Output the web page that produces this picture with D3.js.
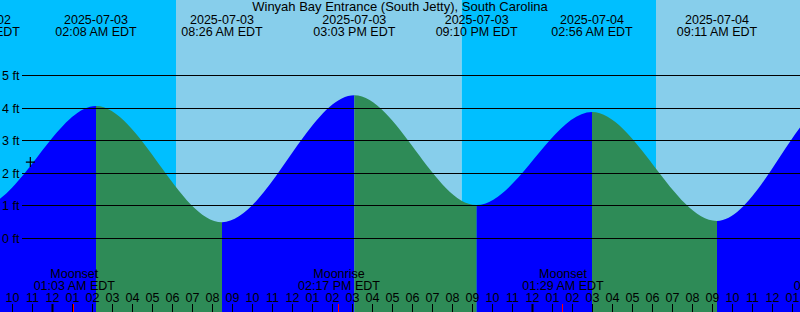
<!DOCTYPE html>
<html>
<head>
<meta charset="utf-8">
<script src="https://cdn.jsdelivr.net/npm/d3@7"></script>
<style>
  body { margin: 0; }
  svg { display: block; }
  text { font-family: "Liberation Sans", Arial, sans-serif; font-size: 12.5px; fill: #000; }
</style>
</head>
<body>
<svg class="main" width="800" height="312"></svg>
<script>
// tide extremes (high / low), first and last ones lie outside the view
const tideTimes = ["2025-07-02 14:05", "2025-07-02 20:17", "2025-07-03 02:08", "2025-07-03 08:26",
                   "2025-07-03 15:03", "2025-07-03 21:10", "2025-07-04 02:56", "2025-07-04 09:11",
                   "2025-07-04 15:25", "2025-07-04 21:55"];
const tideHeights = [4.3, 0.93, 4.05, 0.47, 4.38, 1.0, 3.86, 0.51, 4.4, 1.05];

// sunrise / sunset
const sunTimes = ["2025-07-03 06:08", "2025-07-03 20:25", "2025-07-04 06:08"];

// moon events
const moonTimes = ["2025-07-03 01:03", "2025-07-03 14:17", "2025-07-04 01:29", "2025-07-04 15:04"];
const moonEvents = ["Moonset", "Moonrise", "Moonset", "Moonrise"];

const heightTicks = [0, 1, 2, 3, 4, 5];
const nowTime = "2025-07-02 22:51";
const nowHeight = 2.32;

const title = "Winyah Bay Entrance (South Jetty), South Carolina";
const viewStart = "2025-07-02 21:20";
const viewEnd = "2025-07-04 13:20";

const parse = d3.utcParse("%Y-%m-%d %H:%M");
const fmtDate = d3.utcFormat("%Y-%m-%d");
const fmtTime = d3.utcFormat("%I:%M %p EDT");
const fmtHour = d3.utcFormat("%I");

const svg = d3.select("svg.main");
const width = +svg.attr("width");
const height = +svg.attr("height");

const x = d3.scaleUtc().domain([parse(viewStart), parse(viewEnd)]).range([0, width]);
const y = d3.scaleLinear().domain([0, 5]).range([237.5, 75]);

// only labels that reach into the picture
const visible = (t) => x(t) > -45 && x(t) < width + 45;

// day / night bands
const bounds = [parse(viewStart), ...sunTimes.map(parse), parse(viewEnd)];
for (let i = 0; i < bounds.length - 1; i++) {
    svg.append("rect")
        .attr("x", x(bounds[i]))
        .attr("y", 0)
        .attr("width", x(bounds[i + 1]) - x(bounds[i]))
        .attr("height", height)
        .attr("fill", i % 2 == 0 ? "#00bfff" : "#87ceeb");
}

// tide curve
const tide = tideTimes.map((t, i) => ({t: parse(t), h: tideHeights[i]}));
const area = d3.area()
    .x(d => x(d.t))
    .y0(height)
    .y1(d => y(d.h))
    .curve(d3.curveMonotoneX);

svg.append("clipPath").attr("id", "tideClip")
    .append("path").attr("d", area(tide));

const fills = svg.append("g").attr("clip-path", "url(#tideClip)");
for (let i = 0; i < tide.length - 1; i++) {
    const rising = tide[i + 1].h > tide[i].h;
    fills.append("rect")
        .attr("x", x(tide[i].t))
        .attr("y", 0)
        .attr("width", x(tide[i + 1].t) - x(tide[i].t))
        .attr("height", height)
        .attr("fill", rising ? "#0000ff" : "#2e8b57");
}

// gridlines + height labels
heightTicks.forEach(h => {
    const yy = Math.round(y(h)) + 0.5;
    svg.append("line")
        .attr("x1", 22).attr("x2", width)
        .attr("y1", yy).attr("y2", yy)
        .attr("stroke", "#000").attr("stroke-width", 1);
    svg.append("text")
        .attr("x", 2).attr("y", yy + 4.5)
        .text(h + " ft");
});

// current position marker
const nx = x(parse(nowTime)), ny = y(nowHeight);
svg.append("path")
    .attr("d", `M${nx - 4.5},${ny}H${nx + 4.5}M${nx},${ny - 5}V${ny + 5}`)
    .attr("stroke", "#000").attr("stroke-width", 1.2);

// title
svg.append("text")
    .attr("x", width / 2).attr("y", 11)
    .attr("text-anchor", "middle")
    .style("font-size", "13px")
    .text(title);

// high / low labels
tide.filter(d => visible(d.t)).forEach(d => {
    const g = svg.append("g").attr("text-anchor", "middle");
    g.append("text").attr("x", x(d.t)).attr("y", 24).text(fmtDate(d.t));
    g.append("text").attr("x", x(d.t)).attr("y", 36).text(fmtTime(d.t));
});

// moon labels
moonTimes.forEach((t, i) => {
    const mt = parse(t);
    if (!visible(mt)) return;
    const g = svg.append("g").attr("text-anchor", "middle");
    g.append("text").attr("x", x(mt)).attr("y", 278).text(moonEvents[i]);
    g.append("text").attr("x", x(mt)).attr("y", 290).text(fmtTime(mt));
});

// hour ticks
const hours = x.ticks(d3.utcHour.every(1));
hours.forEach(h => {
    const hx = Math.floor(x(h)) - 0.5;
    const midnight = h.getUTCHours() == 0;
    svg.append("line")
        .attr("x1", hx).attr("x2", hx)
        .attr("y1", 304).attr("y2", height)
        .attr("stroke", "#000")
        .attr("stroke-width", midnight ? 2 : 1);
    svg.append("text")
        .attr("x", hx).attr("y", 302)
        .attr("text-anchor", "middle")
        .text(fmtHour(h));
});

moonTimes.forEach(t => {
    const mx = Math.floor(x(parse(t))) - 0.5;
    svg.append("line")
        .attr("x1", mx).attr("x2", mx)
        .attr("y1", 304).attr("y2", height)
        .attr("stroke", "#ff0000").attr("stroke-width", 1);
});
</script>
</body>
</html>
